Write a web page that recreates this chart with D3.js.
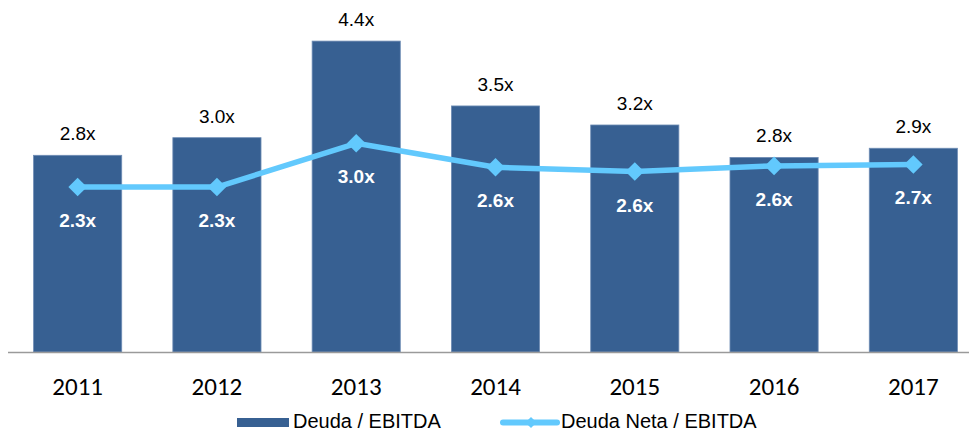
<!DOCTYPE html>
<html>
<head>
<meta charset="utf-8">
<script src="https://cdn.jsdelivr.net/npm/d3@7"></script>
<style>
  html, body { margin: 0; padding: 0; background: #fff; }
  svg { display: block; }
</style>
</head>
<body>
<div id="chart"></div>
<script>
// chart data
const years = ['2011', '2012', '2013', '2014', '2015', '2016', '2017'];
const deudaEbitda = [2.79, 3.04, 4.41, 3.49, 3.22, 2.76, 2.89];
const deudaNetaEbitda = [2.34, 2.34, 2.96, 2.62, 2.56, 2.64, 2.66];
const seriesNames = ['Deuda / EBITDA', 'Deuda Neta / EBITDA'];

const width = 969;
const height = 432;
const barColor = '#376092';
const lineColor = '#62c9fd';
const labelFont = 'Arial, "Liberation Sans", sans-serif';

const svg = d3.select('#chart')
              .append('svg')
              .attr('width', width)
              .attr('height', height);

const x = d3.scaleBand()
            .domain(years)
            .range([8, 983])
            .paddingInner(0.367)
            .paddingOuter(0.1835);

const y = d3.scaleLinear()
            .domain([0, 5])
            .range([352, -0.5]);

const cx = d => x(d) + x.bandwidth() / 2;

// bars
svg.selectAll('.bar')
   .data(years)
   .enter().append('rect')
   .attr('class', 'bar')
   .attr('x', d => x(d))
   .attr('y', (d, i) => y(deudaEbitda[i]))
   .attr('width', x.bandwidth())
   .attr('height', (d, i) => y(0) - y(deudaEbitda[i]))
   .attr('fill', barColor)
   .attr('stroke', '#6f8db5')
   .attr('stroke-width', 0.8);

// bar value labels
svg.selectAll('.bar-label')
   .data(years)
   .enter().append('text')
   .attr('class', 'bar-label')
   .attr('x', cx)
   .attr('y', (d, i) => y(deudaEbitda[i]) - 15)
   .attr('text-anchor', 'middle')
   .attr('font-family', labelFont)
   .attr('font-size', 19)
   .attr('fill', '#000')
   .text((d, i) => deudaEbitda[i].toFixed(1) + 'x');

// axis baseline
const xAxis = svg.append('g')
                 .attr('transform', 'translate(0,' + y(0) + ')')
                 .call(d3.axisBottom(x).tickSize(0).tickPadding(25));
xAxis.select('.domain')
     .attr('d', 'M8,0.5H969')
     .attr('stroke', '#9a9a9a')
     .attr('stroke-width', 1.6);
xAxis.selectAll('text')
     .attr('font-family', 'Carlito, Lato, "Open Sans", sans-serif')
     .attr('font-size', 25)
     .attr('fill', '#000');

// line series
const line = d3.line()
               .x(d => cx(d))
               .y((d, i) => y(deudaNetaEbitda[i]));

svg.append('path')
   .datum(years)
   .attr('d', line)
   .attr('fill', 'none')
   .attr('stroke', lineColor)
   .attr('stroke-width', 5.5)
   .attr('stroke-linejoin', 'round');

const diamond = d3.symbol().type(d3.symbolDiamond2).size(220);

svg.selectAll('.marker')
   .data(years)
   .enter().append('path')
   .attr('class', 'marker')
   .attr('d', diamond)
   .attr('transform', (d, i) => 'translate(' + cx(d) + ',' + y(deudaNetaEbitda[i]) + ')')
   .attr('fill', lineColor);

svg.selectAll('.line-label')
   .data(years)
   .enter().append('text')
   .attr('class', 'line-label')
   .attr('x', cx)
   .attr('y', (d, i) => y(deudaNetaEbitda[i]) + 40)
   .attr('text-anchor', 'middle')
   .attr('font-family', labelFont)
   .attr('font-size', 19)
   .attr('font-weight', 'bold')
   .attr('fill', '#fff')
   .text((d, i) => deudaNetaEbitda[i].toFixed(1) + 'x');

// legend
const legend = svg.append('g').attr('font-family', labelFont).attr('font-size', 20);

legend.append('rect')
      .attr('x', 237).attr('y', 418)
      .attr('width', 52).attr('height', 9)
      .attr('fill', barColor);
legend.append('text')
      .attr('x', 293).attr('y', 428)
      .text(seriesNames[0]);

legend.append('line')
      .attr('x1', 503).attr('x2', 557)
      .attr('y1', 422.5).attr('y2', 422.5)
      .attr('stroke', lineColor)
      .attr('stroke-width', 6)
      .attr('stroke-linecap', 'round');
legend.append('path')
      .attr('d', d3.symbol().type(d3.symbolDiamond2).size(80))
      .attr('transform', 'translate(531,422.5)')
      .attr('fill', lineColor);
legend.append('text')
      .attr('x', 561).attr('y', 428)
      .text(seriesNames[1]);
</script>
</body>
</html>
